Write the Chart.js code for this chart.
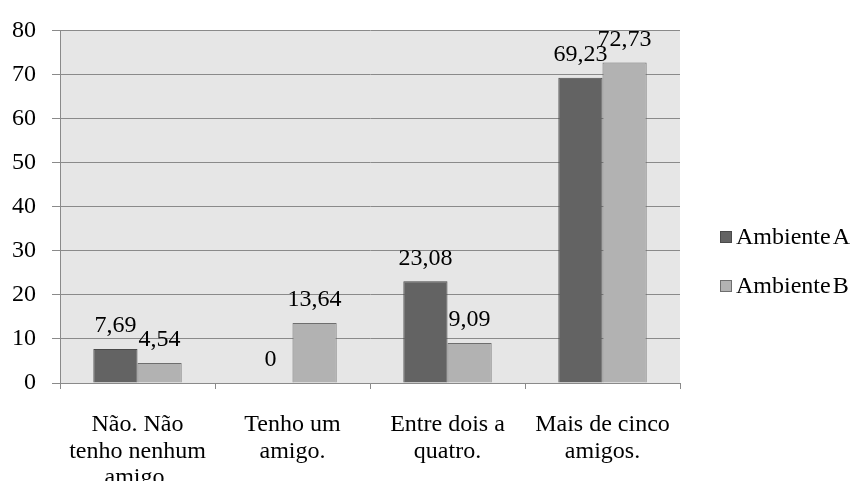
<!DOCTYPE html>
<html>
<head>
<meta charset="utf-8">
<script src="https://cdn.jsdelivr.net/npm/chart.js@4.4.1/dist/chart.umd.min.js"></script>
<style>
  html, body { margin: 0; padding: 0; background: #fff; }
  #wrap { width: 857px; height: 481px; }
</style>
</head>
<body>
<div id="wrap"><canvas id="chart" width="857" height="481"></canvas></div>
<script>
const categories = [
  ['Não. Não', 'tenho nenhum', 'amigo.'],
  ['Tenho um', 'amigo.'],
  ['Entre dois a', 'quatro.'],
  ['Mais de cinco', 'amigos.']
];
const ambienteA = [7.69, 0, 23.08, 69.23];
const ambienteB = [4.54, 13.64, 9.09, 72.73];
const seriesNames = ['Ambiente A', 'Ambiente B'];

const FONT = '"Liberation Serif", "Times New Roman", serif';
const SIZE = 24;
const fillA = '#636363';
const fillB = '#b2b2b2';
const gridColor = '#8a8a8a';

// gray plot background behind bars
const plotBg = {
  id: 'plotBg',
  beforeDraw(chart) {
    const {ctx, chartArea: a} = chart;
    ctx.save();
    ctx.fillStyle = '#e6e6e6';
    ctx.fillRect(a.left, a.top, a.right - a.left, a.bottom - a.top);
    ctx.restore();
  }
};

// value labels above each bar, comma decimals
const valueLabels = {
  id: 'valueLabels',
  afterDatasetsDraw(chart) {
    const ctx = chart.ctx;
    ctx.save();
    ctx.font = SIZE + 'px ' + FONT;
    ctx.fillStyle = '#000';
    ctx.textAlign = 'center';
    ctx.textBaseline = 'middle';
    chart.data.datasets.forEach((ds, i) => {
      chart.getDatasetMeta(i).data.forEach((bar, j) => {
        const txt = String(ds.data[j]).replace('.', ',');
        ctx.fillText(txt, bar.x, bar.y - 23);
      });
    });
    ctx.restore();
  }
};

// legend on the right
const sideLegend = {
  id: 'sideLegend',
  afterDraw(chart) {
    const ctx = chart.ctx;
    ctx.save();
    ctx.font = SIZE + 'px ' + FONT;
    ctx.textBaseline = 'middle';
    if ('wordSpacing' in ctx) ctx.wordSpacing = '-4px';
    chart.data.datasets.forEach((ds, i) => {
      const y = 237 + i * 49;
      ctx.fillStyle = ds.backgroundColor;
      ctx.fillRect(720, y - 6, 12, 12);
      ctx.strokeStyle = ds.borderColor;
      ctx.lineWidth = 1;
      ctx.strokeRect(720.5, y - 5.5, 11, 11);
      ctx.fillStyle = '#000';
      ctx.fillText(ds.label, 736, y + 1);
    });
    ctx.restore();
  }
};

new Chart(document.getElementById('chart'), {
  type: 'bar',
  data: {
    labels: categories,
    datasets: [
      {label: seriesNames[0], data: ambienteA, backgroundColor: fillA, borderColor: '#4a4a4a', borderWidth: 1},
      {label: seriesNames[1], data: ambienteB, backgroundColor: fillB, borderColor: '#6e6e6e', borderWidth: 1}
    ]
  },
  options: {
    responsive: false,
    animation: false,
    layout: {padding: {top: 23, right: 177, left: 0, bottom: 0}},
    datasets: {bar: {categoryPercentage: 0.57, barPercentage: 1}},
    plugins: {legend: {display: false}, tooltip: {enabled: false}},
    scales: {
      x: {
        grid: {offset: true, drawOnChartArea: false, color: gridColor, tickLength: 6},
        border: {color: gridColor},
        ticks: {font: {family: FONT, size: SIZE, lineHeight: 1.1}, color: '#000', padding: 23, maxRotation: 0, autoSkip: false},
        afterFit(s) { s.height = 98; }
      },
      y: {
        min: 0, max: 80,
        grid: {color: gridColor, tickLength: 8},
        border: {color: gridColor},
        ticks: {stepSize: 10, font: {family: FONT, size: SIZE}, color: '#000', padding: 16},
        afterFit(s) { s.width = 60; }
      }
    }
  },
  plugins: [plotBg, valueLabels, sideLegend]
});
</script>
</body>
</html>
